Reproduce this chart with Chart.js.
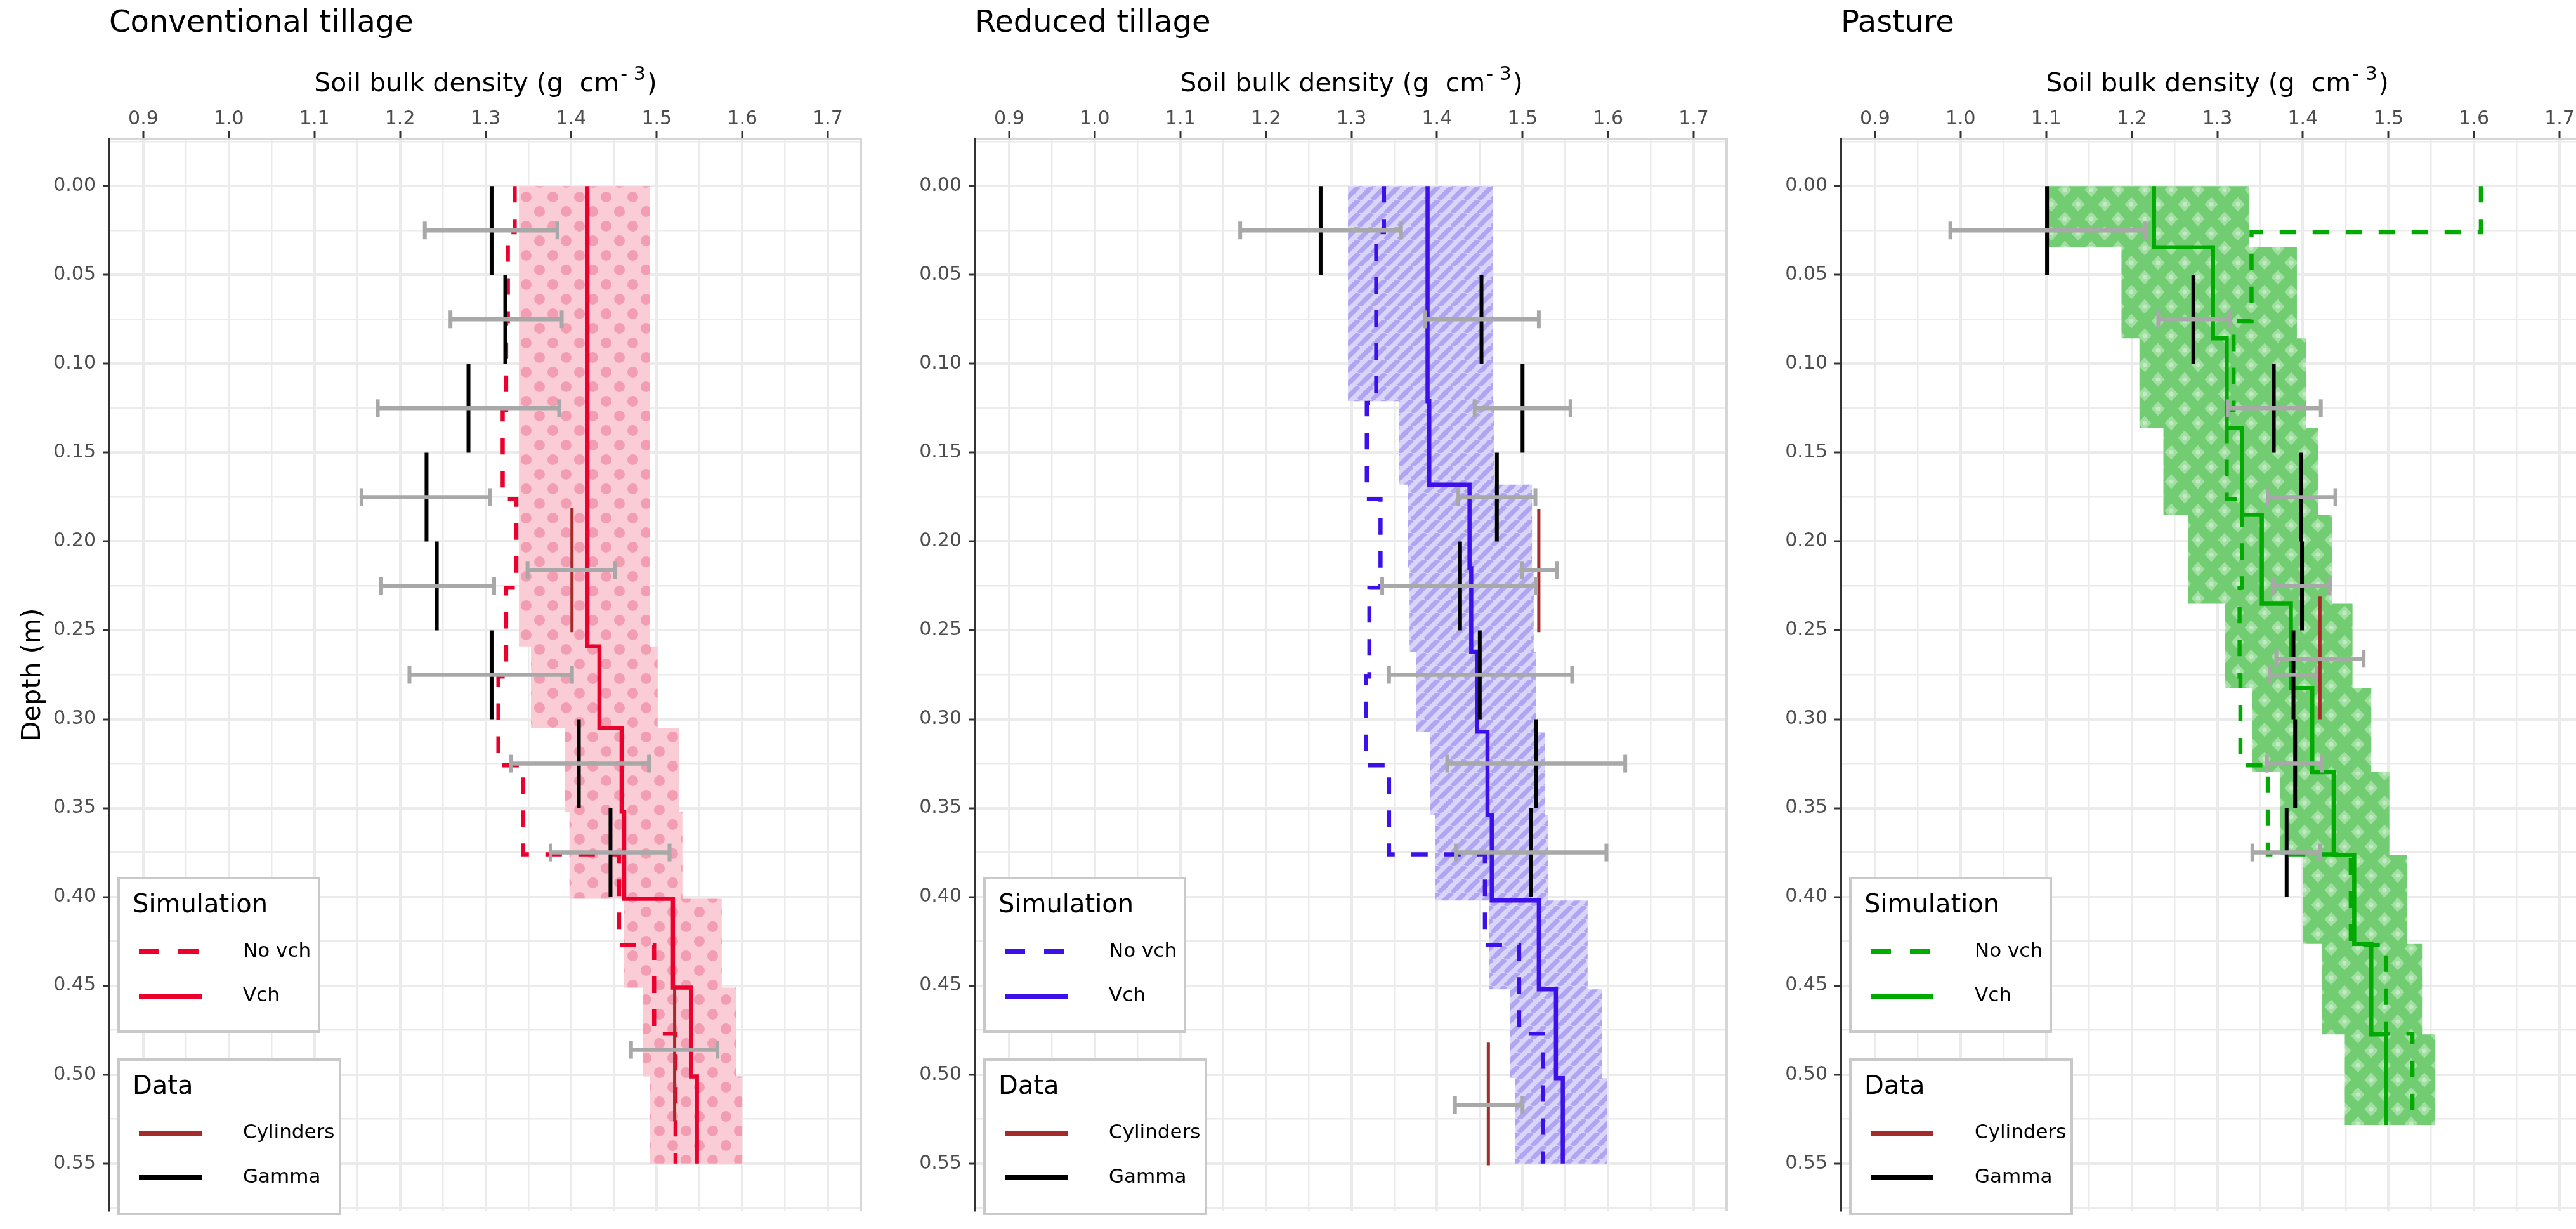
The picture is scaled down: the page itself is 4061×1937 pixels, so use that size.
<!DOCTYPE html>
<html>
<head>
<meta charset="utf-8">
<script src="https://cdn.jsdelivr.net/npm/chart.js@4/dist/chart.umd.min.js"></script>
<style>
html, body { margin: 0; padding: 0; background: #ffffff; overflow: hidden; width: 4061px; height: 1937px; }
.panel { position: absolute; top: 0; width: 1359px; height: 1937px; }
canvas { display: block; }
</style>
</head>
<body>
<div class="panel" style="left:0px"><canvas id="c0" width="1359" height="1937"></canvas></div>
<div class="panel" style="left:1365px"><canvas id="c1" width="1359" height="1937"></canvas></div>
<div class="panel" style="left:2730px"><canvas id="c2" width="1359" height="1937"></canvas></div>
<script>
// ---------------- axis ticks ----------------
const xMajor = [0.9, 1.0, 1.1, 1.2, 1.3, 1.4, 1.5, 1.6, 1.7];
const xLabels = ['0.9', '1.0', '1.1', '1.2', '1.3', '1.4', '1.5', '1.6', '1.7'];
const xMinor = [0.95, 1.05, 1.15, 1.25, 1.35, 1.45, 1.55, 1.65];
const yMajor = [0.00, 0.05, 0.10, 0.15, 0.20, 0.25, 0.30, 0.35, 0.40, 0.45, 0.50, 0.55];
const yLabels = ['0.00', '0.05', '0.10', '0.15', '0.20', '0.25', '0.30', '0.35', '0.40', '0.45', '0.50', '0.55'];
const yMinor = [-0.025, 0.025, 0.075, 0.125, 0.175, 0.225, 0.275, 0.325, 0.375, 0.425, 0.475, 0.525, 0.575];

// ---------------- gamma layers (m) ----------------
const gammaTop = [0.00, 0.05, 0.10, 0.15, 0.20, 0.25, 0.30, 0.35];
const gammaBottom = [0.05, 0.10, 0.15, 0.20, 0.25, 0.30, 0.35, 0.40];
const gammaMid = [0.025, 0.075, 0.125, 0.175, 0.225, 0.275, 0.325, 0.375];

// ---------------- Conventional tillage ----------------
const ctGamma = [1.307, 1.323, 1.280, 1.231, 1.243, 1.307, 1.409, 1.446];
const ctGammaLo = [1.229, 1.259, 1.174, 1.155, 1.178, 1.211, 1.330, 1.376];
const ctGammaHi = [1.384, 1.389, 1.386, 1.305, 1.310, 1.401, 1.491, 1.515];
const ctCylTop = [0.181, 0.451];
const ctCylBottom = [0.251, 0.526];
const ctCylMid = [0.216, 0.486];
const ctCyl = [1.401, 1.521];
const ctCylLo = [1.349, 1.470];
const ctCylHi = [1.451, 1.571];
const ctVchDepth = [0, 0.259, 0.305, 0.352, 0.401, 0.451, 0.501, 0.55];
const ctVch = [1.419, 1.433, 1.459, 1.462, 1.519, 1.540, 1.547];
const ctBandLo = [1.339, 1.353, 1.393, 1.398, 1.462, 1.484, 1.492];
const ctBandHi = [1.492, 1.501, 1.526, 1.530, 1.576, 1.593, 1.600];
const ctNoVchDepth = [0, 0.026, 0.076, 0.126, 0.176, 0.226, 0.276, 0.326, 0.376, 0.427, 0.477, 0.55];
const ctNoVch = [1.334, 1.326, 1.324, 1.320, 1.336, 1.324, 1.315, 1.344, 1.456, 1.497, 1.522];

// ---------------- Reduced tillage ----------------
const rtGamma = [1.264, 1.452, 1.500, 1.470, 1.427, 1.450, 1.516, 1.510];
const rtGammaLo = [1.170, 1.386, 1.444, 1.425, 1.336, 1.344, 1.412, 1.422];
const rtGammaHi = [1.358, 1.519, 1.556, 1.515, 1.516, 1.558, 1.620, 1.598];
const rtCylTop = [0.182, 0.482];
const rtCylBottom = [0.251, 0.551];
const rtCylMid = [0.216, 0.517];
const rtCyl = [1.519, 1.460];
const rtCylLo = [1.499, 1.421];
const rtCylHi = [1.540, 1.500];
const rtVchDepth = [0, 0.121, 0.168, 0.215, 0.262, 0.307, 0.354, 0.402, 0.452, 0.502, 0.55];
const rtVch = [1.389, 1.391, 1.438, 1.440, 1.447, 1.459, 1.464, 1.519, 1.539, 1.547];
const rtBandLo = [1.296, 1.356, 1.366, 1.368, 1.376, 1.392, 1.398, 1.461, 1.485, 1.491];
const rtBandHi = [1.465, 1.467, 1.511, 1.513, 1.516, 1.526, 1.530, 1.576, 1.593, 1.599];
const rtNoVchDepth = [0, 0.026, 0.122, 0.176, 0.226, 0.276, 0.326, 0.376, 0.427, 0.477, 0.55];
const rtNoVch = [1.338, 1.329, 1.318, 1.334, 1.321, 1.317, 1.344, 1.456, 1.496, 1.524];

// ---------------- Pasture ----------------
const paGamma = [1.101, 1.272, 1.366, 1.398, 1.399, 1.389, 1.391, 1.381];
const paGammaLo = [0.988, 1.231, 1.313, 1.359, 1.366, 1.362, 1.358, 1.341];
const paGammaHi = [1.216, 1.314, 1.421, 1.438, 1.431, 1.416, 1.422, 1.420];
const paCylTop = [0.231];
const paCylBottom = [0.300];
const paCylMid = [0.266];
const paCyl = [1.420];
const paCylLo = [1.369];
const paCylHi = [1.471];
const paVchDepth = [0, 0.0345, 0.0857, 0.136, 0.185, 0.235, 0.2824, 0.3298, 0.3765, 0.4265, 0.4773, 0.5283];
const paVch = [1.226, 1.295, 1.311, 1.329, 1.352, 1.386, 1.411, 1.436, 1.460, 1.480, 1.497];
const paBandLo = [1.103, 1.188, 1.209, 1.237, 1.266, 1.309, 1.341, 1.373, 1.400, 1.422, 1.449];
const paBandHi = [1.337, 1.393, 1.404, 1.418, 1.434, 1.458, 1.480, 1.501, 1.522, 1.540, 1.554];
const paNoVchDepth = [0, 0.026, 0.076, 0.126, 0.176, 0.226, 0.276, 0.326, 0.376, 0.427, 0.477, 0.528];
const paNoVch = [1.608, 1.340, 1.319, 1.311, 1.329, 1.326, 1.327, 1.359, 1.456, 1.497, 1.528];

// ---------------- helpers that turn the arrays into library data ----------------
function stepLine(bounds, values) {
  const pts = [];
  values.forEach((v, i) => { pts.push({x: v, y: bounds[i]}); pts.push({x: v, y: bounds[i + 1]}); });
  return pts;
}
function segments(tops, bottoms, values) {
  const pts = [];
  values.forEach((v, i) => { pts.push({x: v, y: tops[i]}, {x: v, y: bottoms[i]}, {x: null, y: null}); });
  return pts;
}
function errorBars(depths, lo, hi) {
  const pts = [];
  depths.forEach((d, i) => { pts.push({x: lo[i], y: d}, {x: hi[i], y: d}, {x: null, y: null}); });
  return pts;
}
function bandShape(bounds, lo, hi) {
  const pts = [];
  lo.forEach((v, i) => { pts.push({x: v, y: bounds[i]}, {x: v, y: bounds[i + 1]}); });
  for (let i = hi.length - 1; i >= 0; i--) { pts.push({x: hi[i], y: bounds[i + 1]}, {x: hi[i], y: bounds[i]}); }
  return pts;
}
function near(a, b) { return Math.abs(a - b) < 1e-6; }
function labelOf(v, majors, labels) {
  const i = majors.findIndex(m => near(m, v));
  return i >= 0 ? labels[i] : '';
}
function isMajor(v, majors) { return majors.some(m => near(m, v)); }

// ---------------- fill patterns ----------------
function dotPattern(ctx) {
  const c = document.createElement('canvas'); c.width = 42; c.height = 46;
  const g = c.getContext('2d');
  g.fillStyle = '#FACCD6'; g.fillRect(0, 0, 42, 46);
  g.fillStyle = '#F29DB1';
  [[10.5, 11.5], [31.5, 34.5]].forEach(([x, y]) => { g.beginPath(); g.arc(x, y, 8.5, 0, Math.PI * 2); g.fill(); });
  return ctx.createPattern(c, 'repeat');
}
function stripePattern(ctx) {
  const s = 21;
  const c = document.createElement('canvas'); c.width = s; c.height = s;
  const g = c.getContext('2d');
  g.fillStyle = '#D9D4FA'; g.fillRect(0, 0, s, s);
  g.strokeStyle = '#AFA5F0'; g.lineWidth = 7.4;
  for (const k of [-1, 0, 1]) { g.beginPath(); g.moveTo(k * s, s); g.lineTo(k * s + s, 0); g.stroke(); }
  return ctx.createPattern(c, 'repeat');
}
function diamondPattern(ctx) {
  const w = 42, h = 46;
  const c = document.createElement('canvas'); c.width = w; c.height = h;
  const g = c.getContext('2d');
  g.fillStyle = '#72CD72'; g.fillRect(0, 0, w, h);
  const centers = [[0, 0], [w, 0], [0, h], [w, h], [w / 2, h / 2]];
  g.fillStyle = '#A2DFA2';
  centers.forEach(([x, y]) => {
    g.beginPath(); g.moveTo(x, y - h / 4); g.lineTo(x + w / 4, y); g.lineTo(x, y + h / 4); g.lineTo(x - w / 4, y); g.closePath(); g.fill();
  });
  g.fillStyle = '#C4EAC4';
  centers.forEach(([x, y]) => { g.beginPath(); g.arc(x, y, 3.5, 0, Math.PI * 2); g.fill(); });
  return ctx.createPattern(c, 'repeat');
}

// ---------------- annotation plugin (titles, legends, panel border) ----------------
const FONT = '"DejaVu Sans", "Liberation Sans", sans-serif';
function legendBox(ctx, x, y, w, h, title, items) {
  ctx.fillStyle = '#ffffff'; ctx.fillRect(x, y, w, h);
  ctx.strokeStyle = '#C9C9C9'; ctx.lineWidth = 4; ctx.setLineDash([]); ctx.strokeRect(x, y, w, h);
  ctx.fillStyle = '#000000'; ctx.textAlign = 'left'; ctx.textBaseline = 'middle';
  ctx.font = '40px ' + FONT;
  ctx.fillText(title, x + 22, y + 44);
  items.forEach((it, i) => {
    const cy = y + 116 + i * 70;
    ctx.strokeStyle = it.color; ctx.lineWidth = 8; ctx.lineCap = 'butt';
    ctx.setLineDash(it.dash || []);
    ctx.beginPath(); ctx.moveTo(x + 32, cy); ctx.lineTo(x + 131, cy); ctx.stroke();
    ctx.setLineDash([]);
    ctx.fillStyle = '#000000'; ctx.font = '31px ' + FONT;
    ctx.fillText(it.label, x + 196, cy);
  });
}
const annotate = {
  id: 'annotate',
  afterDraw(chart, args, opts) {
    const ctx = chart.ctx, a = chart.chartArea;
    ctx.save();
    // right panel border
    ctx.strokeStyle = '#D6D6D6'; ctx.lineWidth = 4;
    ctx.beginPath(); ctx.moveTo(a.right - 2, a.top); ctx.lineTo(a.right - 2, a.bottom); ctx.stroke();
    // panel title
    ctx.fillStyle = '#000000'; ctx.textAlign = 'left'; ctx.textBaseline = 'middle';
    ctx.font = '48px ' + FONT;
    ctx.fillText(opts.title, a.left, 38);
    // x axis title with superscript
    const t1 = 'Soil bulk density (g  cm', t2 = '- 3', t3 = ')';
    ctx.font = '41px ' + FONT;
    const w1 = ctx.measureText(t1).width, w3 = ctx.measureText(t3).width;
    ctx.font = '30px ' + FONT;
    const w2 = ctx.measureText(t2).width + 4;
    let x0 = (a.left + a.right) / 2 - (w1 + w2 + w3) / 2;
    ctx.textBaseline = 'alphabetic';
    ctx.font = '41px ' + FONT; ctx.fillText(t1, x0, 144);
    ctx.font = '30px ' + FONT; ctx.fillText(t2, x0 + w1 + 2, 126);
    ctx.font = '41px ' + FONT; ctx.fillText(t3, x0 + w1 + w2, 144);
    // y axis title
    if (opts.yTitle) {
      ctx.save();
      ctx.translate(52, (a.top + a.bottom) / 2);
      ctx.rotate(-Math.PI / 2);
      ctx.textAlign = 'center'; ctx.textBaseline = 'middle';
      ctx.font = '41px ' + FONT;
      ctx.fillText(opts.yTitle, 0, 0);
      ctx.restore();
    }
    // legends
    legendBox(ctx, a.left + 15, 1384, 316, 242, 'Simulation', [
      {label: 'No vch', color: opts.color, dash: [32, 30]},
      {label: 'Vch', color: opts.color}
    ]);
    legendBox(ctx, a.left + 15, 1670, 349, 243, 'Data', [
      {label: 'Cylinders', color: '#A52A2A'},
      {label: 'Gamma', color: '#000000'}
    ]);
    ctx.restore();
  }
};

// ---------------- chart builder ----------------
const GREY = '#A8A8A8';
Chart.defaults.font.family = FONT;

function makeChart(id, p) {
  const canvas = document.getElementById(id);
  const ctx = canvas.getContext('2d');
  const pattern = p.pattern(ctx);
  const xTicks = xMajor.concat(xMinor).sort((a, b) => a - b);
  const yTicks = yMajor.concat(yMinor).sort((a, b) => a - b);
  return new Chart(ctx, {
    type: 'scatter',
    data: {
      datasets: [
        { label: 'Gamma error', data: errorBars(gammaMid, p.gammaLo, p.gammaHi),
          showLine: true, spanGaps: false, borderColor: GREY, borderWidth: 6.5, borderCapStyle: 'butt',
          pointStyle: 'line', pointRotation: 90, pointRadius: 14, pointBorderWidth: 6,
          pointBorderColor: GREY, pointBackgroundColor: GREY, pointHitRadius: 0 },
        { label: 'Cylinders error', data: errorBars(p.cylMid, p.cylLo, p.cylHi),
          showLine: true, spanGaps: false, borderColor: GREY, borderWidth: 6.5, borderCapStyle: 'butt',
          pointStyle: 'line', pointRotation: 90, pointRadius: 14, pointBorderWidth: 6,
          pointBorderColor: GREY, pointBackgroundColor: GREY, pointHitRadius: 0 },
        { label: 'Cylinders', data: segments(p.cylTop, p.cylBottom, p.cyl),
          showLine: true, spanGaps: false, borderColor: '#A52A2A', borderWidth: 5, pointRadius: 0, borderCapStyle: 'butt' },
        { label: 'Gamma', data: segments(gammaTop, gammaBottom, p.gamma),
          showLine: true, spanGaps: false, borderColor: '#000000', borderWidth: 6, pointRadius: 0, borderCapStyle: 'butt' },
        { label: 'Vch', data: stepLine(p.vchDepth, p.vch),
          showLine: true, spanGaps: false, borderColor: p.color, borderWidth: 6.5, pointRadius: 0,
          borderCapStyle: 'butt', borderJoinStyle: 'miter' },
        { label: 'No vch', data: stepLine(p.noVchDepth, p.noVch),
          showLine: true, spanGaps: false, borderColor: p.color, borderWidth: 6.5, pointRadius: 0,
          borderDash: [26, 26], borderCapStyle: 'butt', borderJoinStyle: 'miter' },
        { label: 'Vch range', data: bandShape(p.vchDepth, p.bandLo, p.bandHi),
          showLine: true, spanGaps: false, borderColor: 'rgba(0,0,0,0)', borderWidth: 0, pointRadius: 0,
          fill: 'shape', backgroundColor: pattern }
      ]
    },
    options: {
      responsive: false,
      animation: false,
      devicePixelRatio: 1,
      events: [],
      layout: { padding: 0, autoPadding: false },
      plugins: {
        legend: { display: false },
        tooltip: { enabled: false },
        annotate: { title: p.title, color: p.color, yTitle: p.yTitle }
      },
      scales: {
        x: {
          type: 'linear', position: 'top', min: 0.86, max: 1.74,
          afterBuildTicks: s => { s.ticks = xTicks.map(v => ({value: v})); },
          afterFit: s => { s.height = 219; },
          ticks: {
            autoSkip: false, maxRotation: 0, minRotation: 0, padding: 0,
            color: '#4D4D4D', font: { size: 30, family: FONT },
            callback: v => labelOf(v, xMajor, xLabels)
          },
          grid: {
            color: '#EBEBEB', drawTicks: true, tickLength: 13, tickWidth: 3,
            lineWidth: c => (c.tick && isMajor(c.tick.value, xMajor)) ? 4 : 2.5,
            tickColor: c => (c.tick && isMajor(c.tick.value, xMajor)) ? '#333333' : 'rgba(0,0,0,0)'
          },
          border: { display: true, color: '#D6D6D6', width: 4 }
        },
        y: {
          type: 'linear', position: 'left', reverse: true, min: -0.0265, max: 0.5765,
          afterBuildTicks: s => { s.ticks = yTicks.map(v => ({value: v})); },
          afterFit: s => { s.width = 172; },
          ticks: {
            autoSkip: false, padding: 11,
            color: '#4D4D4D', font: { size: 30, family: FONT },
            callback: v => labelOf(v, yMajor, yLabels)
          },
          grid: {
            color: '#EBEBEB', drawTicks: true, tickLength: 10, tickWidth: 3,
            lineWidth: c => (c.tick && isMajor(c.tick.value, yMajor)) ? 4 : 2.5,
            tickColor: c => (c.tick && isMajor(c.tick.value, yMajor)) ? '#333333' : 'rgba(0,0,0,0)'
          },
          border: { display: true, color: '#333333', width: 3 }
        }
      }
    },
    plugins: [annotate]
  });
}

makeChart('c0', {
  title: 'Conventional tillage', yTitle: 'Depth (m)', color: '#EB002D', pattern: dotPattern,
  gamma: ctGamma, gammaLo: ctGammaLo, gammaHi: ctGammaHi,
  cylTop: ctCylTop, cylBottom: ctCylBottom, cylMid: ctCylMid, cyl: ctCyl, cylLo: ctCylLo, cylHi: ctCylHi,
  vchDepth: ctVchDepth, vch: ctVch, bandLo: ctBandLo, bandHi: ctBandHi,
  noVchDepth: ctNoVchDepth, noVch: ctNoVch
});
makeChart('c1', {
  title: 'Reduced tillage', yTitle: null, color: '#3C10E8', pattern: stripePattern,
  gamma: rtGamma, gammaLo: rtGammaLo, gammaHi: rtGammaHi,
  cylTop: rtCylTop, cylBottom: rtCylBottom, cylMid: rtCylMid, cyl: rtCyl, cylLo: rtCylLo, cylHi: rtCylHi,
  vchDepth: rtVchDepth, vch: rtVch, bandLo: rtBandLo, bandHi: rtBandHi,
  noVchDepth: rtNoVchDepth, noVch: rtNoVch
});
makeChart('c2', {
  title: 'Pasture', yTitle: null, color: '#00AA00', pattern: diamondPattern,
  gamma: paGamma, gammaLo: paGammaLo, gammaHi: paGammaHi,
  cylTop: paCylTop, cylBottom: paCylBottom, cylMid: paCylMid, cyl: paCyl, cylLo: paCylLo, cylHi: paCylHi,
  vchDepth: paVchDepth, vch: paVch, bandLo: paBandLo, bandHi: paBandHi,
  noVchDepth: paNoVchDepth, noVch: paNoVch
});
</script>
</body>
</html>
